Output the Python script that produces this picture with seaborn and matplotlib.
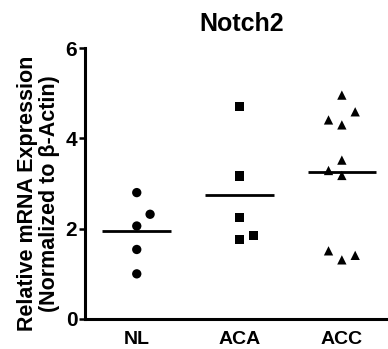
import numpy as np
import pandas as pd
import matplotlib
matplotlib.use("Agg")
import matplotlib.pyplot as plt
import seaborn as sns

groups = ["NL", "ACA", "ACC"]
nl_vals = [2.80, 2.32, 2.06, 1.54, 1.00]
aca_vals = [4.70, 3.17, 2.25, 1.85, 1.76]
acc_vals = [4.96, 4.59, 4.41, 4.30, 3.52, 3.29, 3.18, 1.51, 1.41, 1.31]
# horizontal scatter of the points inside each column (category units)
nl_shift = [0.0, 0.13, 0.0, 0.0, 0.0]
aca_shift = [0.0, 0.0, 0.0, 0.14, 0.0]
acc_shift = [0.0, 0.13, -0.13, 0.0, 0.0, -0.13, 0.0, -0.13, 0.13, 0.0]

df = pd.DataFrame({
    "group": ["NL"] * len(nl_vals) + ["ACA"] * len(aca_vals) + ["ACC"] * len(acc_vals),
    "value": nl_vals + aca_vals + acc_vals,
    "shift": nl_shift + aca_shift + acc_shift,
})
df["x"] = df["group"].map({g: i for i, g in enumerate(groups)}) + df["shift"]

sns.set_style("ticks", {"axes.edgecolor": "black", "text.color": "black",
                        "axes.labelcolor": "black", "xtick.color": "black",
                        "ytick.color": "black"})
plt.rcParams["font.family"] = ["Liberation Sans", "DejaVu Sans"]
plt.rcParams["font.weight"] = "bold"

fig = plt.figure(figsize=(3.88, 3.49), dpi=100)
ax = fig.add_axes([0.219, 0.086, 0.781, 0.776])

sns.scatterplot(data=df, x="x", y="value", style="group",
                markers={"NL": "o", "ACA": "s", "ACC": "^"},
                s=45, color="black", edgecolor="none", legend=False, ax=ax)

means = df.groupby("group")["value"].mean().reindex(groups)
for i, m in enumerate(means):
    ax.hlines(m, i - 0.335, i + 0.335, color="black", lw=2.0)

ax.set_xlim(-0.505, 2.45)
ax.set_ylim(0, 6)
ax.set_yticks([0, 2, 4, 6])
ax.set_xticks(range(len(groups)))
ax.set_xticklabels(groups)
ax.tick_params(axis="y", length=4.5, width=1.8, pad=1, labelsize=15)
ax.tick_params(axis="x", length=0, pad=9, labelsize=14)

for s in ["top", "right"]:
    ax.spines[s].set_visible(False)
for s in ["left", "bottom"]:
    ax.spines[s].set_linewidth(2.2)

ax.set_xlabel("")
ax.set_ylabel("Relative mRNA Expression\n(Normalized to β-Actin)",
              fontsize=15.5, fontweight="bold", linespacing=1.05)
ax.yaxis.set_label_coords(-0.082, 0.463)
ax.set_title("Notch2", fontsize=18, fontweight="bold", pad=12, x=0.517)

fig.savefig("out.png", dpi=100)
